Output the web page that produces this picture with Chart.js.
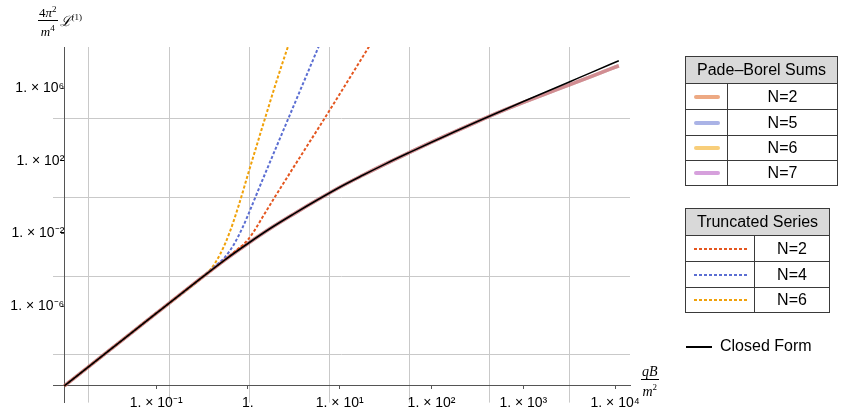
<!DOCTYPE html>
<html><head><meta charset="utf-8">
<script src="https://cdn.jsdelivr.net/npm/chart.js@4"></script>
<style>
html,body{margin:0;padding:0;background:#fff;}
#wrap{position:relative;width:848px;height:414px;overflow:hidden;font-family:"Liberation Sans",Arial,sans-serif;color:#000;}
canvas{position:absolute;left:0;top:0;}
table.lg{position:absolute;border-collapse:collapse;table-layout:fixed;font-size:16px;}
table.lg td{border:1px solid #3a3a3a;padding:0;text-align:center;vertical-align:middle;}
table.lg td.hd{background:#d9d9d9;}
.sw{margin:0 auto;}
.solid{height:4px;border-radius:2px;width:26px;}
.dot{height:2px;width:53px;}
.ser{font-family:"Liberation Serif","DejaVu Serif",serif;}
.frac{display:inline-flex;flex-direction:column;align-items:center;vertical-align:middle;}
.frac .num{border-bottom:1px solid #000;padding:0 1px;line-height:14px;}
.frac .den{line-height:15px;}
</style></head><body>
<div id="wrap">
<canvas id="c" width="848" height="414"></canvas>

<div class="ser" style="position:absolute;left:38px;top:2px;font-size:13px;display:flex;align-items:center;">
  <div class="frac"><div class="num">4<i>π</i><sup style="font-size:9px">2</sup></div><div class="den"><i>m</i><sup style="font-size:9px">4</sup></div></div>
  <div style="margin-left:2px;font-size:14px;"><i>ℒ</i><sup style="font-size:9px">(1)</sup></div>
</div>

<div class="ser" style="position:absolute;left:641px;top:365px;font-size:14px;">
  <div class="frac"><div class="num"><i>qB</i></div><div class="den"><i>m</i><sup style="font-size:9px">2</sup></div></div>
</div>

<table class="lg" style="left:685px;top:56px;width:153px;">
  <colgroup><col style="width:42px"><col></colgroup>
  <tr style="height:27px"><td class="hd" colspan="2">Pade–Borel Sums</td></tr>
  <tr style="height:26px"><td><div class="sw solid" style="background:#eda983"></div></td><td>N=2</td></tr>
  <tr style="height:26px"><td><div class="sw solid" style="background:#aab3e6"></div></td><td>N=5</td></tr>
  <tr style="height:25px"><td><div class="sw solid" style="background:#f8ce7a"></div></td><td>N=6</td></tr>
  <tr style="height:25px"><td><div class="sw solid" style="background:#d6a0dc"></div></td><td>N=7</td></tr>
</table>

<table class="lg" style="left:685px;top:208px;width:145px;">
  <colgroup><col style="width:69px"><col></colgroup>
  <tr style="height:27px"><td class="hd" colspan="2">Truncated Series</td></tr>
  <tr style="height:26px"><td><div class="sw dot" style="background:repeating-linear-gradient(to right,#e4561f 0 3px,transparent 3px 5px)"></div></td><td>N=2</td></tr>
  <tr style="height:26px"><td><div class="sw dot" style="background:repeating-linear-gradient(to right,#5b6ed2 0 3px,transparent 3px 5px)"></div></td><td>N=4</td></tr>
  <tr style="height:25px"><td><div class="sw dot" style="background:repeating-linear-gradient(to right,#f0a10a 0 3px,transparent 3px 5px)"></div></td><td>N=6</td></tr>
</table>

<div style="position:absolute;left:686px;top:346px;width:26px;height:2px;background:#000;"></div>
<div style="position:absolute;left:720px;top:336px;font-size:16px;line-height:20px;">Closed Form</div>
</div>

<script>
// ---- data (x = qB/m^2, y = 4π²/m⁴ L⁽¹⁾) ----
const qbMain = [0.01, 0.0316, 0.1, 0.316, 0.562, 1, 1.78, 3.16, 5.62, 10, 17.8, 31.6, 56.2, 100, 177.8, 316.2, 562.3, 1000, 1778, 3162, 5623, 10965];
const closedForm = [3.98e-11, 3.98e-9, 3.98e-7, 3.80e-5, 3.55e-4, 2.82e-3, 2.0e-2, 0.120, 0.676, 3.55, 16.1, 68.5, 275, 1072, 3981, 1.466e4, 5.25e4, 1.862e5, 6.46e5, 2.239e6, 7.76e6, 3.24e7];
const padeN2 = [3.98e-11, 3.98e-9, 3.98e-7, 3.80e-5, 3.55e-4, 2.82e-3, 2.0e-2, 0.120, 0.676, 3.55, 16.1, 68.5, 275, 1072, 3981, 1.466e4, 5.13e4, 1.66e5, 5.13e5, 1.55e6, 4.68e6, 1.74e7];
const padeN5 = [3.98e-11, 3.98e-9, 3.98e-7, 3.80e-5, 3.55e-4, 2.82e-3, 2.0e-2, 0.120, 0.676, 3.55, 16.1, 68.5, 275, 1072, 3981, 1.466e4, 5.13e4, 1.66e5, 5.13e5, 1.55e6, 4.68e6, 1.74e7];
const padeN6 = [3.98e-11, 3.98e-9, 3.98e-7, 3.80e-5, 3.55e-4, 2.82e-3, 2.0e-2, 0.120, 0.676, 3.55, 16.1, 68.5, 275, 1072, 3981, 1.466e4, 5.13e4, 1.66e5, 5.13e5, 1.55e6, 4.68e6, 1.74e7];
const padeN7 = [3.98e-11, 3.98e-9, 3.98e-7, 3.80e-5, 3.55e-4, 2.82e-3, 2.0e-2, 0.120, 0.676, 3.55, 16.1, 68.5, 275, 1072, 3981, 1.466e4, 5.13e4, 1.66e5, 5.13e5, 1.55e6, 4.68e6, 1.74e7];

const qbTrunc2 = [0.01, 0.0316, 0.1, 0.316, 0.562, 0.794, 0.891, 1, 1.122, 1.259, 1.413, 1.995, 2.818, 3.981, 6.31, 10, 15.85, 25.12];
const truncN2 = [3.98e-11, 3.98e-9, 3.98e-7, 3.80e-5, 3.55e-4, 1.51e-3, 2.45e-3, 4.57e-3, 1.0e-2, 2.51e-2, 6.61e-2, 1.15, 18.6, 295, 1.15e4, 4.79e5, 2.09e7, 9.12e8];
const qbTrunc4 = [0.01, 0.0316, 0.1, 0.316, 0.447, 0.562, 0.708, 0.891, 1, 1.259, 1.585, 1.995, 2.754, 3.981, 6.31];
const truncN4 = [3.98e-11, 3.98e-9, 3.98e-7, 3.80e-5, 1.70e-4, 5.01e-4, 2.63e-3, 2.63e-2, 0.1, 1.70, 28.2, 447, 2.14e4, 1.78e6, 4.47e8];
const qbTrunc6 = [0.01, 0.0316, 0.1, 0.316, 0.398, 0.501, 0.631, 0.794, 1, 1.259, 1.585, 1.995, 2.754, 3.162];
const truncN6 = [3.98e-11, 3.98e-9, 3.98e-7, 3.80e-5, 1.17e-4, 7.59e-4, 1.12e-2, 0.355, 17.8, 832, 3.72e4, 1.58e6, 2.24e8, 1.58e9];

const xTickVals = [0.1, 1, 10, 100, 1000, 10000];
const xTickLabels = ['1. × 10⁻¹', '1.', '1. × 10¹', '1. × 10²', '1. × 10³', '1. × 10⁴'];
const yTickVals = [1e-6, 1e-2, 1e2, 1e6];
const yTickLabels = ['1. × 10⁻⁶', '1. × 10⁻²', '1. × 10²', '1. × 10⁶'];
const xGridVals = [0.01824, 0.1384, 1.028, 7.656, 57.28, 426.6, 3170];
const yGridVals = [2.09e-9, 4.27e-5, 1.0, 2.234e4];

// plot range
const X_MIN = 0.00753, X_MAX = 14521, Y_MIN = 4.83e-12, Y_MAX = 1.876e8;
const X_ORIGIN = 0.01, Y_ORIGIN = 4.17e-11;

const pts = (xs, ys) => xs.map((x, i) => ({x, y: ys[i]}));
const tickFont = {family: '"Liberation Sans", Arial, sans-serif', size: 14};

const dsBase = {pointRadius: 0, fill: false, cubicInterpolationMode: 'monotone'};
new Chart(document.getElementById('c'), {
  type: 'line',
  data: {datasets: [
    {...dsBase, label: 'Closed Form', data: pts(qbMain, closedForm), borderColor: '#000', borderWidth: 1.6, order: 0},
    {...dsBase, label: 'Trunc N=2', data: pts(qbTrunc2, truncN2), borderColor: '#e4561f', borderWidth: 2, borderDash: [3, 2], order: 1},
    {...dsBase, label: 'Trunc N=4', data: pts(qbTrunc4, truncN4), borderColor: '#5b6ed2', borderWidth: 2, borderDash: [3, 2], order: 1},
    {...dsBase, label: 'Trunc N=6', data: pts(qbTrunc6, truncN6), borderColor: '#f0a10a', borderWidth: 2, borderDash: [3, 2], order: 1},
    {...dsBase, label: 'Pade N=7', data: pts(qbMain, padeN7), borderColor: 'rgba(200,70,170,0.3)', borderWidth: 3.5, order: 2},
    {...dsBase, label: 'Pade N=6', data: pts(qbMain, padeN6), borderColor: 'rgba(242,158,0,0.3)', borderWidth: 3.5, order: 3},
    {...dsBase, label: 'Pade N=5', data: pts(qbMain, padeN5), borderColor: 'rgba(88,108,208,0.3)', borderWidth: 3.5, order: 4},
    {...dsBase, label: 'Pade N=2', data: pts(qbMain, padeN2), borderColor: 'rgba(228,88,30,0.3)', borderWidth: 3.5, order: 5}
  ]},
  options: {
    responsive: false, animation: false, events: [],
    layout: {padding: {left: 53, top: 47, right: 218, bottom: 11}},
    plugins: {legend: {display: false}, tooltip: {enabled: false}},
    scales: {
      xg: {type: 'logarithmic', axis: 'x', min: X_MIN, max: X_MAX, position: {y: Y_ORIGIN},
        afterBuildTicks: s => { s.ticks = xGridVals.map(v => ({value: v})); },
        ticks: {display: false}, border: {display: false},
        grid: {color: '#c9c9c9', lineWidth: 1, drawTicks: false}},
      yg: {type: 'logarithmic', axis: 'y', min: Y_MIN, max: Y_MAX, position: {x: X_ORIGIN},
        afterBuildTicks: s => { s.ticks = yGridVals.map(v => ({value: v})); },
        ticks: {display: false}, border: {display: false},
        grid: {color: '#c9c9c9', lineWidth: 1, drawTicks: false}},
      x: {type: 'logarithmic', min: X_MIN, max: X_MAX, position: {y: Y_ORIGIN},
        afterBuildTicks: s => { s.ticks = xTickVals.map(v => ({value: v})); },
        ticks: {autoSkip: false, maxRotation: 0, color: '#000', font: tickFont, padding: 6,
          callback: (v, i) => xTickLabels[i]},
        border: {display: true, color: '#555', width: 1},
        grid: {display: true, drawOnChartArea: false, drawTicks: true, tickLength: 3, color: '#555'}},
      y: {type: 'logarithmic', min: Y_MIN, max: Y_MAX, position: {x: X_ORIGIN},
        afterBuildTicks: s => { s.ticks = yTickVals.map(v => ({value: v})); },
        ticks: {autoSkip: false, color: '#000', font: tickFont, padding: 3,
          callback: (v, i) => yTickLabels[i]},
        border: {display: true, color: '#555', width: 1},
        grid: {display: true, drawOnChartArea: false, drawTicks: true, tickLength: 3, color: '#555'}}
    }
  }
});
</script>
</body></html>
